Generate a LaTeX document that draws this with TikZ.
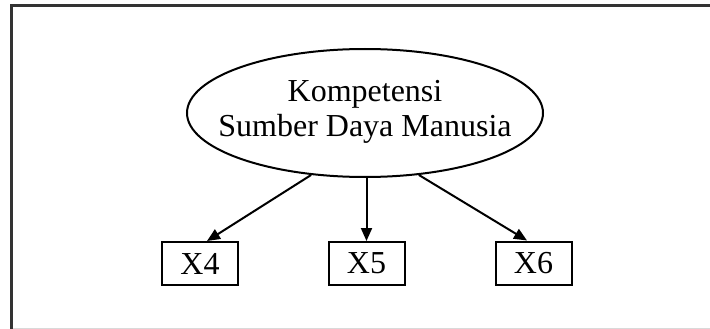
\documentclass[tikz,border=0pt]{standalone}
\usepackage{fontspec}
\setmainfont{Liberation Serif}
\usetikzlibrary{shapes.geometric,arrows.meta}
\begin{document}
\begin{tikzpicture}[x=1pt,y=-1pt,
  lbl/.style={font=\fontsize{32}{35}\selectfont},
  latent/.style={draw, ellipse, line width=2pt, inner sep=0pt, minimum width=356pt, minimum height=128pt},
  obs/.style={draw, rectangle, line width=2pt, inner sep=0pt, minimum width=76pt, minimum height=43pt, lbl},
  arr/.style={line width=2pt, -{Triangle[length=13pt,width=11pt]}},
  frameline/.style={draw=black!80, line width=3pt}]
\useasboundingbox (0,0) rectangle (710,329);
\fill[white] (0,0) rectangle (710,329);
\coordinate (tl) at (11,6);
\coordinate (tr) at (710,6);
\coordinate (bl) at (11,329);
\coordinate (gl) at (11,328);
\coordinate (gr) at (710,328);
\draw[black!15, line width=1pt] (gl) -- (gr);
\draw[frameline] (bl) -- (tl) -- (tr);
\node[latent, label={[lbl, align=center, yshift=1.5pt]center:Kompetensi\\Sumber Daya Manusia}] (e) at (365,113) {};
\node[obs] (x4) at (200,263.5) {X4};
\node[obs] (x5) at (366.5,263.5) {X5};
\node[obs] (x6) at (533.5,263) {X6};
\draw[arr] (e.229) -- ([xshift=7pt]x4.north);
\draw[arr] (e.south -| x5.north) -- (x5.north);
\draw[arr] (e.311) -- ([xshift=-6.5pt]x6.north);
\end{tikzpicture}
\end{document}
